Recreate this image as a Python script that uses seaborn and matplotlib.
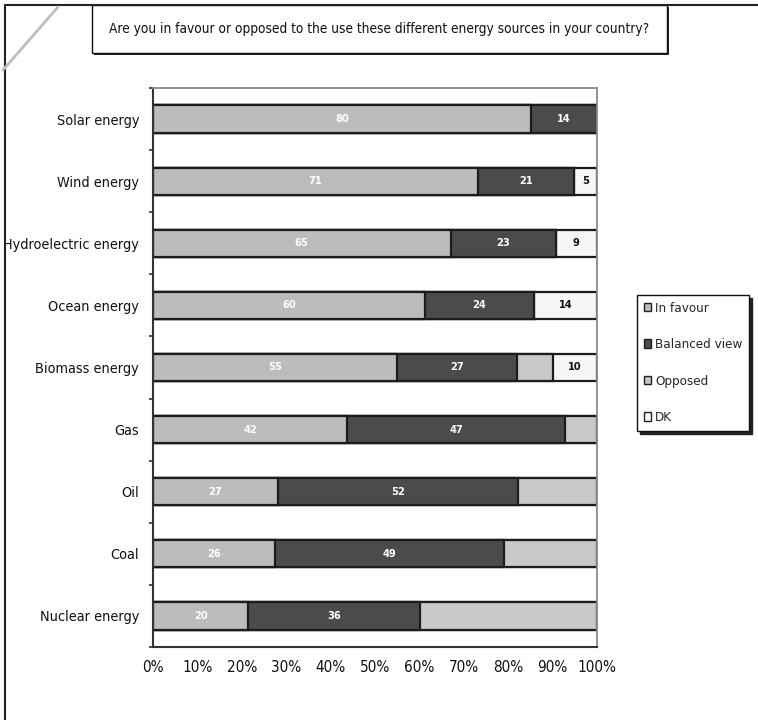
import numpy as np
import pandas as pd
import matplotlib
matplotlib.use("Agg")
import matplotlib.pyplot as plt
from matplotlib import font_manager
from matplotlib.patches import Rectangle, Patch
from matplotlib.lines import Line2D
import seaborn as sns

# Survey answers per energy source (percent of respondents)
sources = ["Solar energy", "Wind energy", "Hydroelectric energy", "Ocean energy",
           "Biomass energy", "Gas", "Oil", "Coal", "Nuclear energy"]
in_favour = [80, 71, 65, 60, 55, 42, 27, 26, 20]
balanced = [14, 21, 23, 24, 27, 47, 52, 49, 36]
opposed = [0, 0, 0, 0, 8, 7, 17, 20, 37]
dont_know = [0, 5, 9, 14, 10, 0, 0, 0, 0]

series_names = ["In favour", "Balanced view", "Opposed", "DK"]
pct_ticks = [0.0, 0.1, 0.2, 0.3, 0.4, 0.5, 0.6, 0.7, 0.8, 0.9, 1.0]
pct_labels = ["0%", "10%", "20%", "30%", "40%", "50%", "60%", "70%", "80%", "90%", "100%"]
title = "Are you in favour or opposed to the use these different energy sources in your country?"

colors = {"In favour": "#bcbcbc", "Balanced view": "#4b4b4b",
          "Opposed": "#c8c8c8", "DK": "#f6f6f6"}
label_colors = {"In favour": "white", "Balanced view": "white", "DK": "#111111"}

sns.set_theme(style="white")

# pick a narrow face if one is installed
fonts = font_manager.fontManager.ttflist
names = {f.name for f in fonts}
stretch = "normal"
if "Liberation Sans Narrow" in names:
    family = ["Liberation Sans Narrow", "DejaVu Sans"]
    scale = 1.0
elif any(f.name == "DejaVu Sans" and f.stretch == "condensed" for f in fonts):
    family = ["DejaVu Sans", "DejaVu Sans"]
    stretch = "condensed"
    scale = 0.88
else:
    family = ["DejaVu Sans"]
    scale = 0.78
plt.rcParams["font.family"] = family
plt.rcParams["font.stretch"] = stretch

df = pd.DataFrame({"source": sources, "In favour": in_favour, "Balanced view": balanced,
                   "Opposed": opposed, "DK": dont_know})
shares = df[series_names].div(df[series_names].sum(axis=1), axis=0)
ends = shares.cumsum(axis=1)
starts = ends - shares

W, H = 758, 720
fig = plt.figure(figsize=(W / 100, H / 100), dpi=100)
ax = fig.add_axes([153 / W, 1 - 647 / H, (597 - 153) / W, (647 - 88) / H])

# 100% stacked bars: draw cumulative totals from the outermost segment inwards
for name in reversed(series_names):
    sns.barplot(x=ends[name].values, y=df["source"], color=colors[name], orient="h",
                width=0.44, saturation=1, edgecolor="#1c1c1c", linewidth=1.6,
                errorbar=None, ax=ax)

# segment value labels
for name in ["In favour", "Balanced view", "DK"]:
    for i in range(len(df)):
        v = df.loc[i, name]
        if v <= 0:
            continue
        cx = starts.loc[i, name] + shares.loc[i, name] / 2
        ax.text(cx, i, str(v), ha="center", va="center", color=label_colors[name],
                fontsize=9 * scale, fontweight="bold")

ax.set_xlim(0, 1)
ax.set_ylim(len(df) - 0.5, -0.5)
ax.set_xticks(pct_ticks)
ax.set_xticklabels(pct_labels)
ax.set_yticks(np.arange(-0.5, len(df), 1.0), minor=True)
ax.set_xlabel("")
ax.set_ylabel("")
ax.tick_params(axis="x", which="major", direction="out", length=4, width=1.2,
               color="#333333", pad=5, labelsize=12.5 * scale, labelcolor="#111111")
ax.tick_params(axis="y", which="major", length=0, pad=10, labelsize=11.8 * scale,
               labelcolor="#111111")
ax.tick_params(axis="y", which="minor", direction="out", length=3, width=1.2,
               color="#333333", left=True)
for side in ["left", "bottom"]:
    ax.spines[side].set_color("#333333")
    ax.spines[side].set_linewidth(1.5)
for side in ["top", "right"]:
    ax.spines[side].set_color("#8a8a8a")
    ax.spines[side].set_linewidth(1.3)

# legend on the right
handles = [Patch(facecolor=colors[n], edgecolor="#222222", linewidth=1.0, label=n)
           for n in series_names]
leg = fig.legend(handles=handles, loc="upper left", bbox_to_anchor=(637 / W, 1 - 295 / H),
                 frameon=True, fancybox=False, fontsize=11 * scale, borderpad=0.5,
                 labelspacing=1.75, handlelength=0.55, handleheight=0.55,
                 handletextpad=0.3, borderaxespad=0,
                 shadow={"ox": 2, "oy": -2, "color": "#222222", "alpha": 1.0})
leg.get_frame().set_edgecolor("#111111")
leg.get_frame().set_linewidth(1.0)

# title box with a drop shadow
bx0, by0, bx1, by1 = 92, 5, 667, 53
fig.add_artist(Rectangle(((bx0 + 2) / W, 1 - (by1 + 2) / H), (bx1 - bx0) / W, (by1 - by0) / H,
                         transform=fig.transFigure, facecolor="#222222", edgecolor="none"))
fig.add_artist(Rectangle((bx0 / W, 1 - by1 / H), (bx1 - bx0) / W, (by1 - by0) / H,
                         transform=fig.transFigure, facecolor="white", edgecolor="#111111",
                         linewidth=1.0))
fig.text((bx0 + bx1) / 2 / W, 1 - 29 / H, title, ha="center", va="center",
         fontsize=11.1 * scale, color="#111111")

# page frame and folded corner stroke
fig.add_artist(Line2D([5 / W, 5 / W], [0, 1 - 5 / H], transform=fig.transFigure,
                      color="#222222", linewidth=1.5))
fig.add_artist(Line2D([5 / W, 1], [1 - 5 / H, 1 - 5 / H], transform=fig.transFigure,
                      color="#222222", linewidth=1.5))
fig.add_artist(Line2D([3 / W, 58 / W], [1 - 70 / H, 1 - 7 / H], transform=fig.transFigure,
                      color="#bdbdbd", linewidth=2.0))

fig.savefig("out.png", dpi=100, facecolor="white")
